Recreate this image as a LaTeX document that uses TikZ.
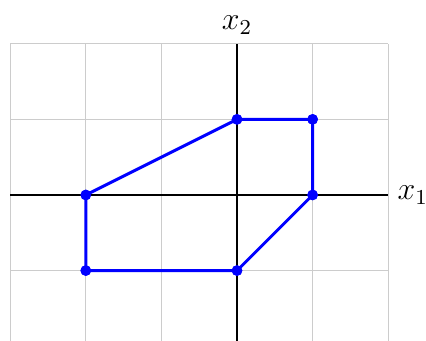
\documentclass[tikz,border=0pt]{standalone}
\begin{document}
\begin{tikzpicture}[x=1cm,y=1cm,
  gridline/.style={gray!40, line width=0.4pt},
  axisline/.style={black, line width=0.8pt},
  edge/.style={blue, line width=1.1pt},
  axlabel/.style={font=\large},
  pt/.style={circle, fill=blue, inner sep=0pt, minimum size=4pt}]
\useasboundingbox (-3.135,-1.931) rectangle (2.5,2.579);
\draw[gridline] (-3,-2) grid (2,2);
\draw[axisline] (-3,0) coordinate (xa) -- (2,0) coordinate (xb);
\draw[axisline] (0,-2) coordinate (ya) -- (0,2) coordinate (yb);
\node[axlabel, right] (lx) at (xb) {$x_1$};
\node[axlabel, above] (ly) at (yb) {$x_2$};
\node[pt] (p1) at (-2,0) {};
\node[pt] (p2) at (0,1) {};
\node[pt] (p3) at (1,1) {};
\node[pt] (p4) at (1,0) {};
\node[pt] (p5) at (0,-1) {};
\node[pt] (p6) at (-2,-1) {};
\draw[edge] (p1.center) -- (p2.center) -- (p3.center) -- (p4.center) -- (p5.center) -- (p6.center) -- cycle;
\foreach \p in {p1,p2,p3,p4,p5,p6} \fill[blue] (\p) circle (2pt);
\end{tikzpicture}
\end{document}
